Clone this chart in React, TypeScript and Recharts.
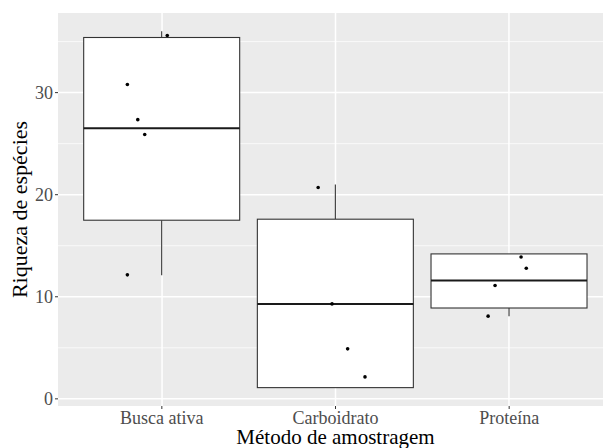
import {
  Bar,
  CartesianGrid,
  ComposedChart,
  Label,
  Scatter,
  XAxis,
  YAxis,
} from "recharts";

const categories = ["Busca ativa", "Carboidrato", "Proteína"];
const whiskerLow = [12.1, 1.1, 8.1];
const lowerHinge = [17.5, 1.1, 8.9];
const medians = [26.5, 9.3, 11.6];
const upperHinge = [35.4, 17.6, 14.2];
const whiskerHigh = [36.0, 21.0, 14.2];

// jittered observations: x position (category index + jitter) and value
const pointX = [
  1.03, 0.8, 0.86, 0.9, 0.8,
  1.9, 1.98, 2.07, 2.17,
  3.07, 3.1, 2.92, 2.88,
];
const pointY = [
  35.6, 30.8, 27.35, 25.9, 12.15,
  20.7, 9.3, 4.9, 2.15,
  13.9, 12.8, 11.1, 8.1,
];

const yTicks = [0, 10, 20, 30];
const yMinor = [5, 15, 25, 35];
const xPositions = [1, 2, 3];

const boxes = categories.map((name, i) => ({
  name,
  lo: whiskerLow[i],
  q1: lowerHinge[i],
  med: medians[i],
  q3: upperHinge[i],
  hi: whiskerHigh[i],
  range: [whiskerLow[i], whiskerHigh[i]],
}));

const points = pointX.map((pos, i) => ({ pos, val: pointY[i] }));

function BoxShape(props: any) {
  const { x, y, width, height, payload } = props;
  const { lo, q1, med, q3, hi } = payload;
  const top = Math.min(y, y + height);
  const h = Math.abs(height);
  const py = (v: number) => top + (h * (hi - v)) / (hi - lo);
  const cx = x + width / 2;
  return (
    <g>
      <line x1={cx} x2={cx} y1={py(hi)} y2={py(q3)} stroke="#333" strokeWidth={1.1} />
      <line x1={cx} x2={cx} y1={py(q1)} y2={py(lo)} stroke="#333" strokeWidth={1.1} />
      <rect
        x={x}
        y={py(q3)}
        width={width}
        height={py(q1) - py(q3)}
        fill="#ffffff"
        stroke="#333"
        strokeWidth={1.1}
      />
      <line x1={x} x2={x + width} y1={py(med)} y2={py(med)} stroke="#1a1a1a" strokeWidth={2} />
    </g>
  );
}

export default function App() {
  return (
    <div style={{ position: "absolute", left: 0, top: 0, background: "#fff" }}>
      <ComposedChart
        width={620}
        height={448}
        data={boxes}
        margin={{ top: 13, right: 7, bottom: 0, left: 0 }}
        barCategoryGap="5%"
        style={{ fontFamily: "'Liberation Serif', serif" }}
      >
        <CartesianGrid
          xAxisId="jit"
          fill="#EBEBEB"
          stroke="#ffffff"
          strokeWidth={0.7}
          horizontalValues={yMinor}
          vertical={false}
        />
        <CartesianGrid
          xAxisId="jit"
          stroke="#ffffff"
          strokeWidth={1.5}
          horizontalValues={yTicks}
          verticalValues={xPositions}
        />
        <XAxis
          dataKey="name"
          type="category"
          padding={{ left: 17, right: 17 }}
          height={42}
          axisLine={false}
          tickLine={{ stroke: "#333" }}
          tickSize={3}
          tick={{ fill: "#4d4d4d", fontSize: 18, dy: 0 }}
        >
          <Label
            value="Método de amostragem"
            position="insideBottom"
            offset={4}
            fill="#000"
            fontSize={21}
          />
        </XAxis>
        <XAxis
          xAxisId="jit"
          type="number"
          dataKey="pos"
          domain={[0.4, 3.6]}
          allowDataOverflow
          hide
        />
        <YAxis
          type="number"
          domain={[-0.7, 37.8]}
          ticks={yTicks}
          allowDataOverflow
          width={58}
          axisLine={false}
          tickLine={{ stroke: "#333" }}
          tickSize={3}
          tick={{ fill: "#4d4d4d", fontSize: 18 }}
        >
          <Label
            value="Riqueza de espécies"
            angle={-90}
            position="insideLeft"
            offset={19}
            style={{ textAnchor: "middle" }}
            fill="#000"
            fontSize={22}
          />
        </YAxis>
        <Bar
          dataKey="range"
          shape={<BoxShape />}
          isAnimationActive={false}
        />
        <Scatter
          xAxisId="jit"
          data={points}
          dataKey="val"
          fill="#000"
          shape={(p: any) => <circle cx={p.cx} cy={p.cy} r={1.8} fill="#000" />}
          isAnimationActive={false}
        />
      </ComposedChart>
    </div>
  );
}
